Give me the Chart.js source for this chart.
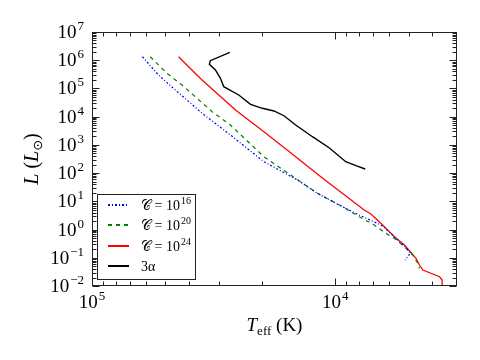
<!DOCTYPE html>
<html>
<head>
<meta charset="utf-8">
<title>HR tracks</title>
<script src="https://cdn.jsdelivr.net/npm/chart.js@4.4.0/dist/chart.umd.min.js"></script>
<style>
  html, body { margin: 0; padding: 0; background: #ffffff; }
  #wrap { width: 480px; height: 360px; }
</style>
</head>
<body>
<div id="wrap"><canvas id="hrChart" width="480" height="360"></canvas></div>
<script>
/* ---------------------------------------------------------
   Data (T_eff in K, L in L_sun)
   --------------------------------------------------------- */
var tempC16 = [62050, 53300, 45460, 35300, 26980, 19660, 14320, 11840, 9650, 7980, 6490, 5910, 5540, 5090, 4920, 5070, 5170];
var lumC16  = [1.33e6, 2.99e5, 8.81e4, 1.32e4, 2240, 254, 56.9, 19.2, 7.41, 3.27, 1.45, 0.736, 0.426, 0.216, 0.144, 0.104, 0.0833];

var tempC20 = [57640, 49210, 42680, 37010, 32090, 26980, 19660, 15250, 11840, 9340, 7980, 6920, 6290, 5720, 5200, 4810, 4580, 4510];
var lumC20  = [1.33e6, 3.44e5, 1.32e5, 4.47e4, 1.50e4, 5060, 381, 85.6, 19.2, 6.44, 2.85, 1.45, 0.798, 0.489, 0.247, 0.125, 0.0637, 0.0423];

var tempC24 = [44060, 40090, 35300, 30130, 25720, 19660, 14550, 11480, 7610, 7140, 6390, 5720, 5200, 4660, 4510, 4370, 3730, 3640, 3640];
var lumC24  = [1.33e6, 5.89e5, 1.99e5, 5.86e4, 1.72e4, 2930, 381, 74.5, 4.92, 3.55, 1.45, 0.557, 0.283, 0.0957, 0.0554, 0.0368, 0.0213, 0.0163, 0.0095];

var temp3a = [27150, 32630, 32940, 31100, 29650, 28750, 24940, 22300, 19950, 17870, 16260, 14550, 12420, 10610, 9060, 8230, 7540];
var lum3a  = [1.91e6, 9.62e5, 7.17e5, 4.50e5, 2.29e5, 1.15e5, 5.86e4, 2.74e4, 1.98e4, 1.59e4, 1.08e4, 5060, 1950, 794, 254, 183, 140];

var seriesNames = ['C16', 'C20', 'C24', '3a'];
var legendBase  = ['\uD835\uDC9E = 10', '\uD835\uDC9E = 10', '\uD835\uDC9E = 10', '3\u03B1'];
var legendExp   = ['16', '20', '24', ''];

var xTickExps = [5, 4];
var yTickExps = [-2, -1, 0, 1, 2, 3, 4, 5, 6, 7];
var xLimits = [3162, 1e5];
var yLimits = [1e-2, 1e7];

var SERIF = '"Liberation Serif", "DejaVu Serif", serif';

function toPoints(xs, ys) {
  return xs.map(function (x, i) { return { x: x, y: ys[i] }; });
}

/* 10 with a raised exponent, anchored left / center / right */
function drawPower(ctx, base, exp, x, y, size, align) {
  var supSize = Math.round(size * 0.7);
  ctx.font = size + 'px ' + SERIF;
  var wb = ctx.measureText(base).width;
  ctx.font = supSize + 'px ' + SERIF;
  var we = exp ? ctx.measureText(exp).width + 1 : 0;
  var total = wb + we;
  var left = align === 'right' ? x - total : (align === 'center' ? x - total / 2 : x);
  ctx.textAlign = 'left';
  ctx.textBaseline = 'alphabetic';
  ctx.font = size + 'px ' + SERIF;
  ctx.fillText(base, left, y);
  if (exp) {
    ctx.font = supSize + 'px ' + SERIF;
    ctx.fillText(exp, left + wb + 1, y - size * 0.42);
  }
}

/* ---------------------------------------------------------
   Frame, inward ticks, labels, titles and legend
   --------------------------------------------------------- */
var frameDeco = {
  id: 'frameDeco',
  afterDraw: function (chart) {
    var ctx = chart.ctx;
    var a = chart.chartArea;
    var sx = chart.scales.x;
    var sy = chart.scales.y;
    var L = Math.round(a.left) + 0.5, R = Math.round(a.right) - 0.5;
    var T = Math.round(a.top) + 0.5, B = Math.round(a.bottom) - 0.5;

    ctx.save();
    ctx.strokeStyle = '#222';
    ctx.lineWidth = 1;
    ctx.setLineDash([]);
    ctx.strokeRect(L, T, R - L, B - T);

    // x ticks, top and bottom
    ctx.beginPath();
    for (var d = 3; d <= 5; d++) {
      for (var m = 1; m <= 9; m++) {
        var v = m * Math.pow(10, d);
        if (v < xLimits[0] || v > xLimits[1]) continue;
        var px = Math.round(sx.getPixelForValue(v)) + 0.5;
        var len = m === 1 ? 7 : 4;
        ctx.moveTo(px, B); ctx.lineTo(px, B - len);
        ctx.moveTo(px, T); ctx.lineTo(px, T + len);
      }
    }
    // y ticks, left and right
    for (var e = -2; e <= 7; e++) {
      for (var k = 1; k <= 9; k++) {
        var w = k * Math.pow(10, e);
        if (w < yLimits[0] * 0.999 || w > yLimits[1] * 1.001) continue;
        var py = Math.round(sy.getPixelForValue(w)) + 0.5;
        var ln = k === 1 ? 7 : 4;
        ctx.moveTo(L, py); ctx.lineTo(L + ln, py);
        ctx.moveTo(R, py); ctx.lineTo(R - ln, py);
      }
    }
    ctx.stroke();

    // tick labels
    ctx.fillStyle = '#000';
    xTickExps.forEach(function (p) {
      var px = sx.getPixelForValue(Math.pow(10, p));
      drawPower(ctx, '10', String(p), px, 308, 19, 'center');
    });
    yTickExps.forEach(function (p) {
      var py = sy.getPixelForValue(Math.pow(10, p));
      var lab = p < 0 ? '\u2212' + (-p) : String(p);
      drawPower(ctx, '10', lab, 84, py + 6, 19, 'right');
    });

    // x title: T_eff (K)
    var cx = (a.left + a.right) / 2;
    ctx.font = 'italic 19px ' + SERIF;
    var wT = ctx.measureText('T').width;
    ctx.font = '13px ' + SERIF;
    var wSub = ctx.measureText('eff').width;
    ctx.font = '19px ' + SERIF;
    var wK = ctx.measureText(' (K)').width;
    var x0 = cx - (wT + wSub + wK) / 2;
    ctx.textAlign = 'left';
    ctx.font = 'italic 19px ' + SERIF;
    ctx.fillText('T', x0, 331);
    ctx.font = '13px ' + SERIF;
    ctx.fillText('eff', x0 + wT, 335);
    ctx.font = '19px ' + SERIF;
    ctx.fillText(' (K)', x0 + wT + wSub, 331);

    // y title: L (L_sun), rotated
    ctx.save();
    ctx.translate(38, (a.top + a.bottom) / 2);
    ctx.rotate(-Math.PI / 2);
    var parts = [
      { t: 'L', f: 'italic 20px ' + SERIF, dy: 0 },
      { t: ' (', f: '20px ' + SERIF, dy: 0 },
      { t: 'L', f: 'italic 20px ' + SERIF, dy: 0 },
      { t: '\u2299', f: '13px "DejaVu Sans", sans-serif', dy: 4 },
      { t: ')', f: '20px ' + SERIF, dy: 0 }
    ];
    var tw = 0;
    parts.forEach(function (p) { ctx.font = p.f; p.w = ctx.measureText(p.t).width; tw += p.w; });
    var tx = -tw / 2;
    parts.forEach(function (p) { ctx.font = p.f; ctx.fillText(p.t, tx, p.dy); tx += p.w; });
    ctx.restore();

    // legend
    var lx = 97.5, ly = 194.5, lw = 98, lh = 85;
    ctx.fillStyle = '#fff';
    ctx.fillRect(lx, ly, lw, lh);
    ctx.strokeStyle = '#222';
    ctx.lineWidth = 1;
    ctx.strokeRect(lx, ly, lw, lh);
    chart.data.datasets.forEach(function (ds, i) {
      var ry = Math.round(205 + i * 20.4);
      ctx.strokeStyle = ds.borderColor;
      ctx.lineWidth = 2;
      ctx.setLineDash(ds.borderDash || []);
      ctx.beginPath();
      ctx.moveTo(108, ry);
      ctx.lineTo(129, ry);
      ctx.stroke();
      ctx.setLineDash([]);
      ctx.fillStyle = '#000';
      drawPower(ctx, legendBase[i], legendExp[i], 141, ry + 5, 14, 'left');
    });
    ctx.restore();
  }
};

/* ---------------------------------------------------------
   Chart
   --------------------------------------------------------- */
new Chart(document.getElementById('hrChart'), {
  type: 'line',
  data: {
    datasets: [
      { label: seriesNames[0], data: toPoints(tempC16, lumC16), borderColor: '#0000ff', borderWidth: 1.2, borderDash: [2, 2, 1, 2] },
      { label: seriesNames[1], data: toPoints(tempC20, lumC20), borderColor: '#008000', borderWidth: 1.2, borderDash: [4, 4] },
      { label: seriesNames[2], data: toPoints(tempC24, lumC24), borderColor: '#ff0000', borderWidth: 1.3 },
      { label: seriesNames[3], data: toPoints(temp3a, lum3a), borderColor: '#000000', borderWidth: 1.4 }
    ]
  },
  options: {
    responsive: false,
    animation: false,
    layout: { padding: { left: 92, right: 23, top: 32, bottom: 74 } },
    elements: { point: { radius: 0 }, line: { tension: 0, fill: false } },
    plugins: { legend: { display: false }, tooltip: { enabled: false } },
    scales: {
      x: { type: 'logarithmic', reverse: true, min: xLimits[0], max: xLimits[1], display: false },
      y: { type: 'logarithmic', min: yLimits[0], max: yLimits[1], display: false }
    }
  },
  plugins: [frameDeco]
});
</script>
</body>
</html>
